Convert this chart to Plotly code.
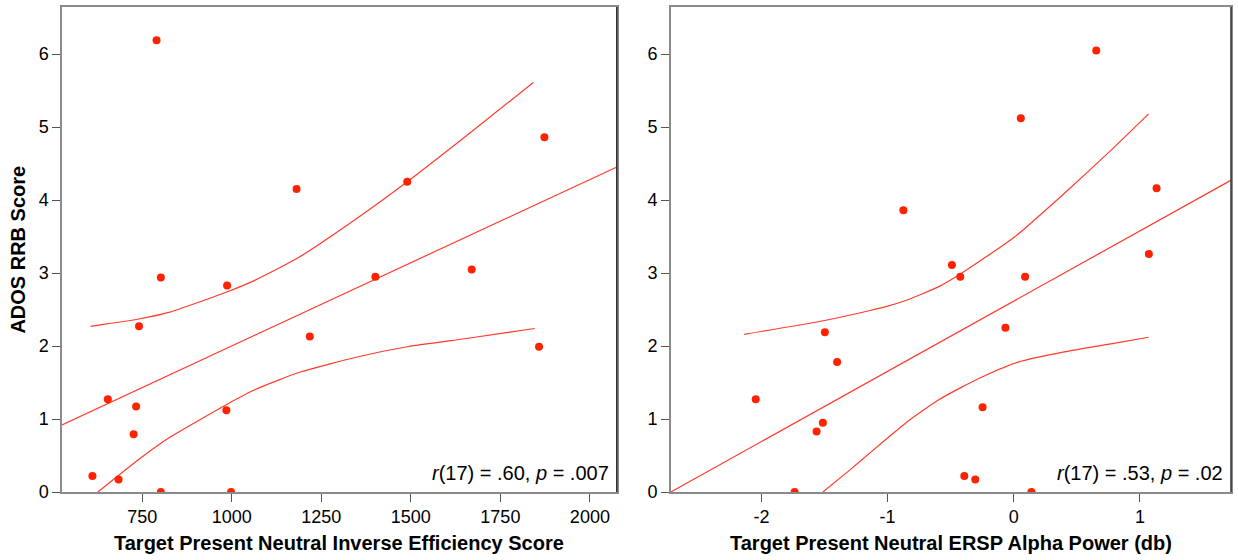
import plotly.graph_objects as go

# ---------------- Left panel data ----------------
ies_x = [790, 1181, 1490, 1873, 1401, 1670, 802, 987, 741, 1218,
         1858, 654, 733, 985, 726, 611, 684, 802, 998]
ies_y = [6.19, 4.15, 4.25, 4.86, 2.95, 3.05, 2.94, 2.83, 2.27, 2.13,
         1.99, 1.27, 1.17, 1.12, 0.79, 0.22, 0.17, 0.0, 0.0]
ies_fit_x = [526, 2074]
ies_fit_y = [0.92, 4.45]
ies_upper_x = [606, 741, 824, 986, 1064, 1189, 1350, 1490, 1650, 1842]
ies_upper_y = [2.27, 2.37, 2.46, 2.74, 2.90, 3.22, 3.75, 4.25, 4.86, 5.61]
ies_lower_x = [626, 741, 824, 986, 1064, 1189, 1350, 1490, 1650, 1846]
ies_lower_y = [0.0, 0.45, 0.74, 1.20, 1.40, 1.64, 1.85, 1.99, 2.10, 2.24]

# ---------------- Right panel data ----------------
ersp_x = [-0.875, 0.654, 0.056, 1.132, 1.071, -0.49, -0.424, 0.09, -0.066, -0.247,
          -0.392, -0.305, 0.14, -1.497, -1.4, -2.045, -1.513, -1.563, -1.737]
ersp_y = [3.86, 6.05, 5.12, 4.16, 3.26, 3.11, 2.95, 2.95, 2.25, 1.16,
          0.22, 0.17, 0.0, 2.19, 1.78, 1.27, 0.95, 0.83, 0.0]
ersp_fit_x = [-2.718, 1.72]
ersp_fit_y = [0.0, 4.27]
ersp_upper_x = [-2.137, -1.499, -1.13, -0.993, -0.846, -0.598, -0.42, 0.004, 0.40, 0.77, 1.069]
ersp_upper_y = [2.16, 2.35, 2.49, 2.55, 2.63, 2.81, 2.99, 3.49, 4.09, 4.68, 5.18]
ersp_lower_x = [-1.513, -1.30, -1.13, -0.993, -0.846, -0.598, -0.42, -0.247, 0.035, 0.40, 0.77, 1.069]
ersp_lower_y = [0.0, 0.30, 0.55, 0.75, 0.96, 1.26, 1.43, 1.58, 1.78, 1.92, 2.03, 2.12]

y_ticks = [0, 1, 2, 3, 4, 5, 6]
ies_ticks = [750, 1000, 1250, 1500, 1750, 2000]
ersp_ticks = [-2, -1, 0, 1]

titles = {
    "left_x": "Target Present Neutral Inverse Efficiency Score",
    "right_x": "Target Present Neutral ERSP Alpha Power (db)",
    "y": "ADOS RRB Score",
}
stats = ["<i>r</i>(17) = .60, <i>p</i> = .007", "<i>r</i>(17) = .53, <i>p</i> = .02"]

MARK = "#ff2200"
LINE = "#ff3b2b"
FONT = "Liberation Sans, Arial, sans-serif"

fig = go.Figure()

def add_panel(px, py, fx, fy, ux, uy, lx, ly, xa, ya):
    for cx, cy in ((fx, fy), (ux, uy), (lx, ly)):
        fig.add_trace(go.Scatter(x=cx, y=cy, mode="lines", xaxis=xa, yaxis=ya,
                                 line=dict(color=LINE, width=1.2, shape="spline", smoothing=0.5),
                                 hoverinfo="skip", showlegend=False))
    fig.add_trace(go.Scatter(x=px, y=py, mode="markers", xaxis=xa, yaxis=ya,
                             marker=dict(color=MARK, size=8, line=dict(width=0)),
                             showlegend=False))

add_panel(ies_x, ies_y, ies_fit_x, ies_fit_y, ies_upper_x, ies_upper_y,
          ies_lower_x, ies_lower_y, "x", "y")
add_panel(ersp_x, ersp_y, ersp_fit_x, ersp_fit_y, ersp_upper_x, ersp_upper_y,
          ersp_lower_x, ersp_lower_y, "x2", "y2")

axis_common = dict(showgrid=False, zeroline=False, showline=True, linecolor="#8a8a8a",
                   linewidth=1.5, ticks="outside", ticklen=8, tickcolor="#555555",
                   tickwidth=1.2, tickfont=dict(family=FONT, size=18, color="#000000"),
                   mirror=True)

d1 = (617.7 - 62) / 1171
d2 = (672 - 62) / 1171

fig.update_layout(
    width=1238, height=560,
    margin=dict(l=62, r=5, t=6, b=68),
    paper_bgcolor="white", plot_bgcolor="white",
    font=dict(family=FONT, color="#000000"),
    xaxis=dict(domain=[0, d1], range=[526, 2075], tickvals=ies_ticks,
               ticktext=[str(v) for v in ies_ticks], anchor="y", **axis_common),
    yaxis=dict(domain=[0, 1], range=[0, 6.645], tickvals=y_ticks,
               ticktext=[str(v) for v in y_ticks], anchor="x", **axis_common),
    xaxis2=dict(domain=[d2, 1], range=[-2.717, 1.722], tickvals=ersp_ticks,
                ticktext=[str(v) for v in ersp_ticks], anchor="y2", **axis_common),
    yaxis2=dict(domain=[0, 1], range=[0, 6.645], tickvals=y_ticks,
                ticktext=[str(v) for v in y_ticks], anchor="x2", **axis_common),
)

# darker right borders
for xr, yr in (("x domain", "y domain"), ("x2 domain", "y2 domain")):
    fig.add_shape(type="line", xref=xr, yref=yr, x0=1, x1=1, y0=0, y1=1,
                  line=dict(color="#333333", width=1.5))

ann_font = dict(family=FONT, size=20, color="#000000")
fig.add_annotation(text="<b>" + titles["left_x"] + "</b>", xref="paper", yref="paper",
                   x=d1 / 2, y=-0.105, xanchor="center", yanchor="middle",
                   showarrow=False, font=ann_font)
fig.add_annotation(text="<b>" + titles["right_x"] + "</b>", xref="paper", yref="paper",
                   x=(d2 + 1) / 2, y=-0.105, xanchor="center", yanchor="middle",
                   showarrow=False, font=ann_font)
fig.add_annotation(text="<b>" + titles["y"] + "</b>", xref="paper", yref="paper",
                   x=-0.0384, y=0.5, xanchor="center", yanchor="middle", textangle=-90,
                   showarrow=False, font=ann_font)

for xr, yr, s in (("x domain", "y domain", stats[0]), ("x2 domain", "y2 domain", stats[1])):
    fig.add_annotation(text=s, xref=xr, yref=yr, x=0.989, y=0.04,
                       xanchor="right", yanchor="middle", showarrow=False,
                       font=dict(family=FONT, size=20, color="#000000"))

fig.write_html("out.html", config={"displayModeBar": False},
               post_script="document.body.style.margin='0';document.body.style.overflow='hidden';")
